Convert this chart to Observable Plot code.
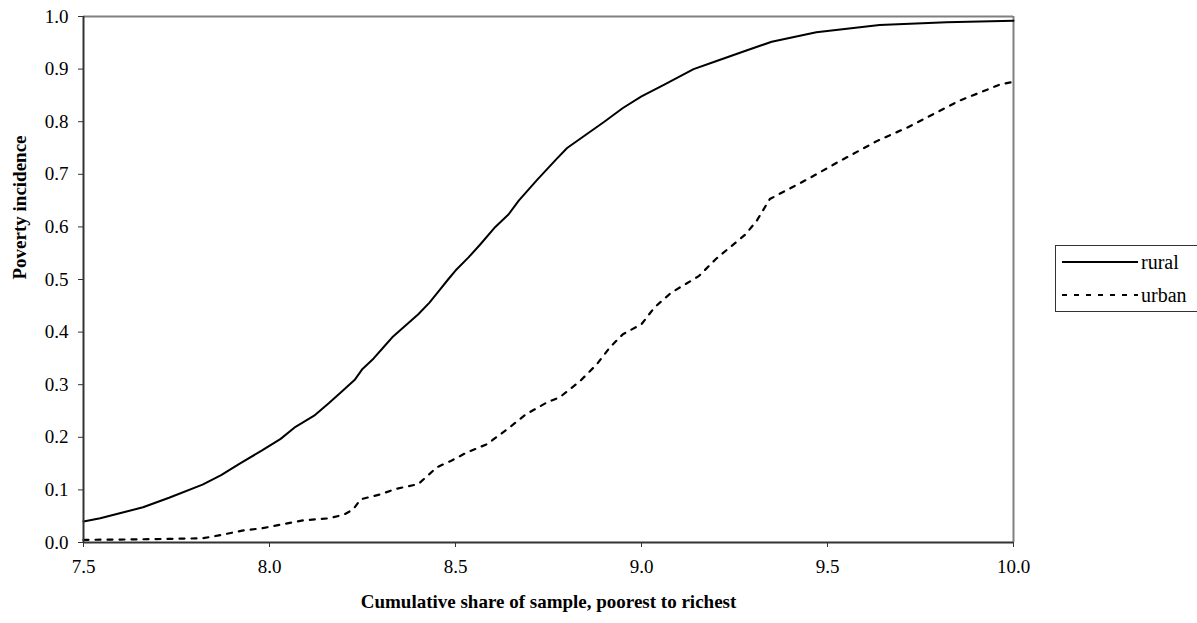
<!DOCTYPE html>
<html>
<head>
<meta charset="utf-8">
<script src="https://cdn.jsdelivr.net/npm/d3@7"></script>
<script src="https://cdn.jsdelivr.net/npm/@observablehq/plot@0.6"></script>
<style>
  html, body { margin: 0; padding: 0; background: #fff; }
  #wrap { position: relative; width: 1197px; height: 623px; font-family: "Liberation Serif", "DejaVu Serif", serif; }
  #wrap svg, #wrap svg text { font-family: "Liberation Serif", "DejaVu Serif", serif !important; }
  #legend { position: absolute; left: 1055px; top: 245px; width: 150px; height: 67px; border: 1px solid #333; box-sizing: border-box; background: #fff; }
  #legend .row { position: absolute; left: 6px; display: flex; align-items: center; font-size: 20px; color: #000; font-family: "Liberation Serif", serif; }
  #legend svg { display: block; margin-right: 3px; }
</style>
</head>
<body>
<div id="wrap"></div>
<script>
// Data
const ruralX = [7.50, 7.545, 7.60, 7.66, 7.73, 7.82, 7.87, 7.92, 7.98, 8.03, 8.07, 8.12, 8.16, 8.19, 8.23, 8.25, 8.28, 8.31, 8.33, 8.40, 8.43, 8.455, 8.48, 8.50, 8.535, 8.567, 8.607, 8.643, 8.67, 8.72, 8.77, 8.80, 8.84, 8.90, 8.95, 9.00, 9.06, 9.14, 9.20, 9.28, 9.35, 9.47, 9.64, 9.82, 10.0];
const ruralY = [0.040, 0.046, 0.056, 0.067, 0.085, 0.110, 0.128, 0.150, 0.175, 0.197, 0.220, 0.241, 0.265, 0.284, 0.310, 0.330, 0.350, 0.374, 0.390, 0.434, 0.456, 0.478, 0.500, 0.517, 0.542, 0.567, 0.600, 0.624, 0.650, 0.690, 0.728, 0.750, 0.770, 0.800, 0.826, 0.848, 0.870, 0.900, 0.915, 0.935, 0.952, 0.970, 0.984, 0.989, 0.992];
const urbanX = [7.50, 7.65, 7.82, 7.86, 7.93, 7.98, 8.03, 8.09, 8.16, 8.20, 8.225, 8.245, 8.30, 8.34, 8.40, 8.45, 8.49, 8.53, 8.585, 8.64, 8.69, 8.745, 8.78, 8.835, 8.88, 8.915, 8.95, 9.00, 9.035, 9.08, 9.12, 9.155, 9.20, 9.28, 9.31, 9.345, 9.455, 9.525, 9.635, 9.715, 9.855, 9.965, 10.0];
const urbanY = [0.005, 0.006, 0.008, 0.013, 0.023, 0.027, 0.034, 0.042, 0.046, 0.053, 0.063, 0.082, 0.092, 0.102, 0.111, 0.143, 0.156, 0.171, 0.187, 0.216, 0.244, 0.266, 0.276, 0.307, 0.339, 0.371, 0.396, 0.415, 0.447, 0.475, 0.492, 0.507, 0.539, 0.586, 0.612, 0.653, 0.694, 0.722, 0.764, 0.789, 0.840, 0.871, 0.876];
const xTicks = [7.5, 8.0, 8.5, 9.0, 9.5, 10.0];
const yTicks = [0.0, 0.1, 0.2, 0.3, 0.4, 0.5, 0.6, 0.7, 0.8, 0.9, 1.0];
const seriesNames = ["rural", "urban"];
const xTitle = "Cumulative share of sample, poorest to richest";
const yTitle = "Poverty incidence";

const rural = ruralX.map((x, i) => ({x, y: ruralY[i]}));
const urban = urbanX.map((x, i) => ({x, y: urbanY[i]}));
const dash = "5,7";

const chart = Plot.plot({
  width: 1197,
  height: 623,
  marginTop: 16,
  marginLeft: 83,
  marginRight: 184,
  marginBottom: 81,
  style: { fontSize: "19px", color: "#000", background: "#fff" },
  x: { domain: [7.5, 10], ticks: xTicks },
  y: { domain: [0, 1], ticks: yTicks },
  marks: [
    Plot.ruleY([1], { stroke: "#808080", strokeWidth: 2 }),
    Plot.ruleX([10], { stroke: "#808080", strokeWidth: 2 }),
    Plot.line(rural, { x: "x", y: "y", stroke: "#000", strokeWidth: 2 }),
    Plot.line(urban, { x: "x", y: "y", stroke: "#000", strokeWidth: 2.2, strokeDasharray: dash }),
    Plot.ruleX([7.5], { stroke: "#333", strokeWidth: 2 }),
    Plot.ruleY([0], { stroke: "#333", strokeWidth: 2 }),
    Plot.axisX({ ticks: xTicks, tickFormat: d3.format(".1f"), tickSize: 5, tickPadding: 12, label: null, stroke: "#333", fontSize: 19 }),
    Plot.axisY({ ticks: yTicks, tickFormat: d3.format(".1f"), tickSize: 5, tickPadding: 10, label: null, stroke: "#333", fontSize: 19 }),
    Plot.text([xTitle], { frameAnchor: "bottom", dy: 65, fontWeight: "bold", fontSize: 19, text: d => d }),
    Plot.text([yTitle], { frameAnchor: "left", dx: -64, rotate: -90, fontWeight: "bold", fontSize: 19, text: d => d })
  ]
});
const wrap = document.getElementById("wrap");
wrap.appendChild(chart);

// Legend (right side)
const legend = document.createElement("div");
legend.id = "legend";
seriesNames.forEach((name, i) => {
  const row = document.createElement("div");
  row.className = "row";
  row.style.top = (i === 0 ? 4 : 37) + "px";
  row.innerHTML = `<svg width="76" height="24"><line x1="0" x2="76" y1="12" y2="12" stroke="#000" stroke-width="2" ${i === 1 ? `stroke-dasharray="${dash}"` : ""}/></svg><span>${name}</span>`;
  legend.appendChild(row);
});
wrap.appendChild(legend);
</script>
</body>
</html>
